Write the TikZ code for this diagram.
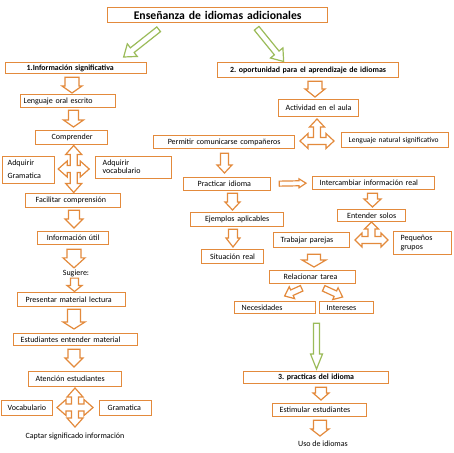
\documentclass[tikz,border=0pt]{standalone}
\usepackage{fontspec}
\setmainfont{Carlito}
\usetikzlibrary{calc}
\frenchspacing
\definecolor{orn}{HTML}{E38A3C}
\definecolor{grn}{HTML}{9BBB59}
\newdimen\baDX \newdimen\baDY
\pgfkeys{/ba/.cd, s/.store in=\baS, h/.store in=\baH, hl/.store in=\baHL,
  gt/.store in=\baGT, gb/.store in=\baGB, st/.store in=\baStyle}
\makeatletter
% block arrow from #2 to #3 (any coordinates)
\newcommand\BArr[3][]{%
  \pgfqkeys{/ba}{s=6,h=10,hl=8,st=blk,#1}%
  \path #2 coordinate (baSzero);
  \path #3 coordinate (baEzero);
  \pgfpointdiff{\pgfpointanchor{baSzero}{center}}{\pgfpointanchor{baEzero}{center}}%
  \baDX=\pgf@x \baDY=\pgf@y
  \pgfmathsetmacro\baL{veclen(\baDX,\baDY)}%
  \pgfmathsetmacro\baA{atan2(\baDY,\baDX)}%
  \pgfmathsetmacro\baB{\baL-\baHL}%
  \draw[\baStyle, shift={(baSzero)}, rotate=\baA] (0pt,\baS pt) -- (\baB pt,\baS pt) -- (\baB pt,\baH pt)
    -- (\baL pt,0pt) -- (\baB pt,-\baH pt) -- (\baB pt,-\baS pt) -- (0pt,-\baS pt) -- cycle;
}
% vertical block arrow at x=#2 from node #3 down to node #4
\newcommand\VArr[4][]{%
  \pgfqkeys{/ba}{gt=2.5,gb=2.5,#1}%
  \coordinate (vaXzero) at (#2,0);
  \path (vaXzero |- #3.south) coordinate (vaAzero);
  \path (vaXzero |- #4.north) coordinate (vaBzero);
  \BArr[#1]{([yshift=-\baGT pt]vaAzero)}{([yshift=\baGB pt]vaBzero)}%
}
\makeatother
% four-way arrow: cx cy Lx Ly s h hl
\newcommand\QArr[7]{%
  \pgfmathsetmacro\qa{#3-#7}\pgfmathsetmacro\qb{#4-#7}%
  \draw[blk, shift={(#1,#2)}] (#5,-#5) -- (\qa,-#5) -- (\qa,-#6) -- (#3,0) -- (\qa,#6) -- (\qa,#5)
    -- (#5,#5) -- (#5,\qb) -- (#6,\qb) -- (0,#4) -- (-#6,\qb) -- (-#5,\qb) -- (-#5,#5)
    -- (-\qa,#5) -- (-\qa,#6) -- (-#3,0) -- (-\qa,-#6) -- (-\qa,-#5) -- (-#5,-#5)
    -- (-#5,-\qb) -- (-#6,-\qb) -- (0,-#4) -- (#6,-\qb) -- (#5,-\qb) -- cycle;}
% left-right-up arrow: cx cy Lx Ly s h hl
\newcommand\TArr[7]{%
  \pgfmathsetmacro\qa{#3-#7}\pgfmathsetmacro\qb{#4-#7}%
  \draw[blk, shift={(#1,#2)}] (-\qa,#5) -- (\qa,#5) -- (\qa,#6) -- (#3,0) -- (\qa,-#6) -- (\qa,-#5)
    -- (#5,-#5) -- (#5,-\qb) -- (#6,-\qb) -- (0,-#4) -- (-#6,-\qb) -- (-#5,-\qb) -- (-#5,-#5)
    -- (-\qa,-#5) -- (-\qa,-#6) -- (-#3,0) -- (-\qa,#6) -- cycle;}
% box: [opts] name x1 y1 x2 y2 pad text  (pad 0 = centred)
\newcommand\NBox[8][]{%
  \pgfmathsetmacro\nbw{#5-#3}%
  \pgfmathsetmacro\nbh{#6-#4}%
  \pgfmathsetmacro\nbt{#5-#3-2*#7}%
  \ifdim#7pt=0pt
    \node[box, align=center, anchor=north west, minimum width=\nbw pt, minimum height=\nbh pt, text width=\nbt pt, #1] (#2) at (#3,#4) {#8};%
  \else
    \node[box, align=left, anchor=north west, minimum width=\nbw pt, minimum height=\nbh pt, text width=\nbt pt, #1] (#2) at (#3,#4) {\hbox{#8}};%
  \fi}
\tikzset{
  box/.style={draw=orn, line width=1.3pt, fill=white, inner xsep=0pt, inner ysep=0pt,
    font=\fontsize{8}{8.8}\selectfont},
  hb/.style={font=\fontsize{7.9}{8.8}\selectfont\bfseries},
  blk/.style={draw=orn, line width=1.2pt, fill=white, line join=miter},
  gblk/.style={draw=grn, line width=1.2pt, fill=white, line join=miter},
  txt/.style={font=\fontsize{8}{8.8}\selectfont, inner sep=0pt},
}
\begin{document}
\begin{tikzpicture}[x=1pt,y=-1pt]
\useasboundingbox[fill=white] (0,0) rectangle (453,453);
% ---- boxes
\NBox[font=\fontsize{11.7}{13}\selectfont\bfseries]{title}{107}{7}{327}{22}{0}{Enseñanza de idiomas adicionales}
\NBox[hb]{info}{5}{62}{146}{73}{21}{1.Información significativa}
\NBox[hb]{oport}{217}{62}{398}{77}{0}{2. oportunidad para el aprendizaje de idiomas}
\NBox{lenguaje}{20}{94}{115}{107}{3}{Lenguaje oral escrito}
\NBox{actividad}{278}{99}{358}{116}{7}{Actividad en el aula}
\NBox{comprender}{35}{130}{107}{144}{16}{Comprender}
\NBox{adqgram}{2}{156}{54}{183}{5}{\begin{tabular}{@{}l@{}}Adquirir\\[4.5pt]Gramatica\end{tabular}}
\NBox{adqvoc}{95}{156}{171}{178}{7}{\begin{tabular}{@{}l@{}}Adquirir\\vocabulario\end{tabular}}
\NBox{facilitar}{25}{193}{120}{207}{10}{Facilitar comprensión}
\NBox{infoutil}{37}{231}{108}{244}{0}{Información útil}
\node[txt] (sugiere) at (76,273) {Sugiere:};
\NBox{presentar}{17}{292}{125}{306}{8}{Presentar material lectura}
\NBox{estudiantes}{13}{333}{137}{345}{7}{Estudiantes entender material}
\NBox{atencion}{28}{371}{121}{386}{7}{Atención estudiantes}
\NBox{vocab}{1}{400}{52}{415}{6}{Vocabulario}
\NBox{gramatica}{99}{400}{151}{415}{8}{Gramatica}
\node[txt] (captar) at (75,436) {Captar significado información};
\NBox{permitir}{153}{135}{294}{148}{0}{Permitir comunicarse compañeros}
\NBox[font=\fontsize{7.5}{8.8}\selectfont]{lennat}{341}{132}{448}{147}{7}{Lenguaje natural significativo}
\NBox{practicar}{183}{177}{270}{190}{14}{Practicar idioma}
\NBox{intercambiar}{312}{176}{434}{189}{7}{Intercambiar información real}
\NBox{ejemplos}{190}{212}{283}{226}{0}{Ejemplos aplicables}
\NBox{situacion}{201}{249}{263}{263}{0}{Situación real}
\NBox{entender}{337}{209}{405}{221}{0}{Entender solos}
\NBox{trabajar}{273}{232}{349}{247}{7}{Trabajar parejas}
\NBox{pequenos}{393}{231}{451}{254}{7}{\begin{tabular}{@{}l@{}}Pequeños\\grupos\end{tabular}}
\NBox{relacionar}{269}{270}{355}{283}{14}{Relacionar tarea}
\NBox{necesidades}{234}{301}{315}{313}{7}{Necesidades}
\NBox{intereses}{319}{301}{373}{313}{7}{Intereses}
\NBox[hb]{practicas}{243}{371}{388}{383}{0}{3. practicas del idioma}
\NBox{estimular}{272}{403}{366}{416}{7}{Estimular estudiantes}
\node[txt] (uso) at (323,444) {Uso de idiomas};
% ---- green arrows
\BArr[st=gblk,s=3,h=8,hl=11]{([shift={(-59,6)}]title.south)}{([shift={(47.5,-5)}]info.north)}
\BArr[st=gblk,s=3,h=8,hl=11]{([shift={(39,5)}]title.south)}{([shift={(-24.5,-0.5)}]oport.north)}
\VArr[st=gblk,s=3,h=6,hl=15,gt=9,gb=2]{316.5}{necesidades}{practicas}
% ---- left column arrows
\VArr[s=7,h=10,hl=7,gt=3,gb=1]{72}{info}{lenguaje}
\VArr[s=5,h=10,hl=7,gt=2,gb=3]{73.5}{lenguaje}{comprender}
\QArr{73.7}{169}{15.5}{23.5}{3.5}{8}{9}
\VArr[s=5.5,h=9,hl=9,gt=2,gb=3]{74}{facilitar}{infoutil}
\VArr[s=7,h=11,hl=10,gt=4,gb=1.5]{74}{infoutil}{sugiere}
\VArr[s=4,h=7.5,hl=6,gt=1.5,gb=0.5]{74.5}{sugiere}{presentar}
\VArr[s=6.5,h=11,hl=7,gt=2,gb=4]{74}{presentar}{estudiantes}
\VArr[s=6,h=9,hl=9,gt=3,gb=4]{74}{estudiantes}{atencion}
\QArr{75}{407.5}{18}{19.5}{3.5}{8}{9}
% ---- right column arrows
\VArr[s=7,h=10,hl=8,gt=3,gb=2]{315}{oport}{actividad}
\TArr{317}{141}{17}{22}{3.5}{7.5}{8}
\VArr[s=4,h=7.5,hl=8,gt=4,gb=4]{224.5}{permitir}{practicar}
\BArr[s=2.5,h=4.5,hl=7]{([shift={(8,-0.5)}]practicar.east)}{([xshift=-6pt]intercambiar.west)}
\VArr[s=5,h=7.5,hl=8,gt=2,gb=2]{232.5}{practicar}{ejemplos}
\VArr[s=4.5,h=7,hl=9,gt=2,gb=2]{233}{ejemplos}{situacion}
\VArr[s=5,h=8.5,hl=8,gt=3,gb=2]{372.5}{intercambiar}{entender}
\TArr{371.5}{240}{16.5}{18}{3.5}{7}{7}
\VArr[s=6.5,h=12,hl=7,gt=6,gb=3]{314}{trabajar}{relacionar}
\BArr[s=3,h=6.5,hl=8]{([shift={(-11,4)}]relacionar.south)}{([shift={(9.5,-5)}]necesidades.north)}
\BArr[s=3,h=6.5,hl=8]{([shift={(11,4)}]relacionar.south)}{([shift={(-4,-4)}]intereses.north)}
\VArr[s=5.5,h=8,hl=7,gt=3,gb=3]{321}{practicas}{estimular}
\VArr[s=6.5,h=9,hl=7,gt=3,gb=5]{320}{estimular}{uso}
\end{tikzpicture}
\end{document}
